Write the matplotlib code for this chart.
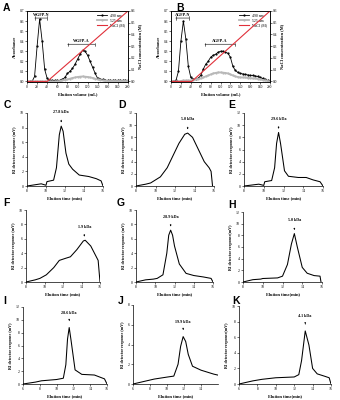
import matplotlib
matplotlib.use('Agg')
import matplotlib.pyplot as plt
import numpy as np

plt.rcParams['font.family'] = ['Liberation Serif', 'DejaVu Serif']
plt.rcParams['axes.linewidth'] = 0.5
plt.rcParams['xtick.major.width'] = 0.4
plt.rcParams['ytick.major.width'] = 0.4
plt.rcParams['xtick.major.size'] = 1.2
plt.rcParams['ytick.major.size'] = 1.2
plt.rcParams['xtick.major.pad'] = 1
plt.rcParams['ytick.major.pad'] = 1

# ---- ion exchange data (A, B) ----
vol = list(range(0, 205, 5))
a_490 = [0, 0, 0, 0.05, 0.35, 0.62, 0.40, 0.12, 0.03, 0.01, 0.01, 0.01, 0.01, 0.01, 0.02,
         0.04, 0.08, 0.10, 0.13, 0.17, 0.22, 0.27, 0.31, 0.30, 0.26, 0.20, 0.14, 0.08, 0.03,
         0.02, 0.02, 0.01, 0.01, 0.01, 0.01, 0.01, 0.01, 0.01, 0.01, 0.01, 0.01]
a_525 = [0, 0, 0, 0, 0, 0, 0, 0, 0, 0, 0, 0, 0.002, 0.005, 0.01, 0.015, 0.02, 0.028, 0.035,
         0.04, 0.045, 0.048, 0.05, 0.048, 0.045, 0.04, 0.035, 0.028, 0.02, 0.015, 0.01, 0.007,
         0.005, 0.005, 0.005, 0.005, 0.005, 0.005, 0.005, 0.005, 0.005]
b_490 = [0, 0, 0.01, 0.10, 0.40, 0.60, 0.42, 0.15, 0.04, 0.02, 0.02, 0.03, 0.06, 0.12, 0.17,
         0.20, 0.24, 0.26, 0.27, 0.29, 0.30, 0.30, 0.29, 0.28, 0.24, 0.15, 0.11, 0.09, 0.08,
         0.075, 0.07, 0.065, 0.06, 0.06, 0.055, 0.05, 0.04, 0.03, 0.02, 0.01, 0.005]
b_525 = [0, 0, 0, 0, 0.005, 0.01, 0.01, 0.01, 0.01, 0.015, 0.02, 0.025, 0.03, 0.04, 0.05,
         0.06, 0.07, 0.08, 0.085, 0.09, 0.09, 0.088, 0.085, 0.08, 0.07, 0.06, 0.05, 0.045,
         0.04, 0.04, 0.04, 0.035, 0.035, 0.03, 0.03, 0.025, 0.02, 0.015, 0.01, 0.005, 0]
a_nacl_x = [0, 40, 200]
a_nacl_y = [0, 0, 0.6]
b_nacl_x = [0, 42, 200]
b_nacl_y = [0, 0, 0.6]

# ---- GPC data (C - K) ----
c_t = [8, 9, 9.5, 10, 10.1, 10.8, 11.1, 11.4, 11.6, 11.8, 12.1, 12.4, 12.8, 13.5, 14.5, 15.3, 15.8, 16]
c_y = [0, 0.2, 0.3, 0.1, 0.6, 0.8, 2.5, 7.0, 8.2, 7.5, 4.5, 3.0, 2.3, 1.5, 1.3, 1.0, 0.7, 0]
d_t = [8, 9, 9.5, 10, 10.5, 11.2, 11.8, 12.4, 13.0, 13.3, 13.8, 14.4, 15.0, 15.5, 15.7, 15.85]
d_y = [0, 0.3, 0.5, 1.0, 1.5, 3.0, 5.0, 7.0, 8.5, 8.7, 8.0, 6.0, 4.0, 3.0, 2.4, 0]
e_t = [8, 9, 9.5, 10, 10.1, 10.8, 11.1, 11.3, 11.5, 11.7, 12.1, 12.5, 13.5, 14.3, 15.0, 15.7, 16]
e_y = [0, 0.2, 0.3, 0.1, 0.7, 0.9, 3.0, 7.0, 8.8, 7.0, 2.5, 1.6, 1.4, 1.4, 1.0, 0.7, 0]
f_t = [8, 9, 9.5, 10.2, 11, 11.6, 12.3, 12.8, 13.5, 14.2, 14.4, 15.0, 15.6, 15.8, 16]
f_y = [0, 0.3, 0.5, 1.0, 2.0, 3.0, 3.3, 3.5, 4.5, 5.7, 5.8, 5.0, 3.5, 3.0, 0]
g_t = [8, 9, 9.8, 10.2, 10.8, 11.2, 11.4, 11.6, 11.8, 12.0, 12.5, 13.2, 14.0, 15.0, 15.8, 16]
g_y = [0, 0.3, 0.4, 0.5, 1.0, 4.0, 6.5, 7.2, 6.5, 5.0, 2.5, 1.2, 0.9, 0.7, 0.5, 0]
h_t = [8, 9, 9.8, 10, 11.5, 12.0, 12.5, 12.9, 13.2, 13.5, 14.0, 14.5, 15.2, 15.8, 15.9]
h_y = [0, 0.4, 0.5, 0.6, 0.7, 1.0, 3.0, 6.5, 8.3, 6.0, 2.5, 1.5, 1.1, 1.0, 0]
i_t = [6, 7.5, 8.2, 10, 10.8, 11.1, 11.3, 11.5, 11.7, 12.2, 13.0, 14.5, 15.7, 16]
i_y = [0, 0.3, 0.5, 0.7, 0.9, 3.0, 7.0, 8.8, 7.0, 2.2, 1.5, 1.4, 0.8, 0]
j_t = [6, 7.5, 8.5, 10, 10.8, 11.3, 11.6, 11.9, 12.2, 12.5, 13.0, 14.0, 15.5, 16]
j_y = [0, 0.3, 0.5, 0.7, 0.8, 2.0, 3.8, 4.8, 4.3, 3.0, 1.8, 1.4, 1.0, 0.9]
k_t = [6, 7.5, 8.5, 10, 12, 12.5, 12.8, 13.2, 13.6, 14.0, 14.5, 15.3, 15.8, 16]
k_y = [0, 0.4, 0.6, 0.8, 0.9, 1.2, 3.0, 6.8, 5.0, 2.0, 1.3, 1.0, 0.8, 0]

W, H = 340, 400
fig = plt.figure(figsize=(3.4, 4.0), dpi=100)


def px_axes(x0, y0, x1, y1):
    return fig.add_axes([x0 / W, (H - y1) / H, (x1 - x0) / W, (y1 - y0) / H])


def letter(x, y, s):
    fig.text(x / W, 1 - y / H, s, fontsize=7.5, fontweight='bold',
             family='Liberation Sans', va='top', ha='left')


def ie_panel(box, d490, d525, nx, ny, labN, spanN, yN, labA, spanA, yA):
    ax = px_axes(*box)
    ax.plot(vol, d490, color='black', lw=0.6, marker='o', ms=0.6, label='490 nm')
    ax.plot(vol, d525, color='#b8b8b8', lw=1.3, marker='o', ms=0.6, label='525 nm')
    ax.set_xlim(0, 200)
    ax.set_ylim(-0.005, 0.7)
    ax.set_xticks(range(0, 201, 20))
    ax.set_yticks(np.arange(0, 0.71, 0.1))
    ax.set_yticklabels(['%.1f' % v for v in np.arange(0, 0.71, 0.1)])
    ax.tick_params(labelsize=2.6)
    ax.set_ylabel('Absorbance', fontsize=3.2, fontweight='bold', labelpad=2)
    ax.set_xlabel('Elution volume (mL)', fontsize=3.2, fontweight='bold', labelpad=2)
    ax2 = ax.twinx()
    ax2.plot(nx, ny, color='#e0303a', lw=0.8, label='NaCl (M)')
    ax2.set_ylim(-0.005, 0.6)
    ax2.set_yticks(np.arange(0, 0.61, 0.1))
    ax2.set_yticklabels(['%.1f' % v for v in np.arange(0, 0.61, 0.1)])
    ax2.tick_params(labelsize=2.6)
    ax2.set_ylabel('NaCl concentration (M)', fontsize=3.2, fontweight='bold', labelpad=2)
    h1, l1 = ax.get_legend_handles_labels()
    h2, l2 = ax2.get_legend_handles_labels()
    ax.legend(h1 + h2, l1 + l2, loc='upper right', fontsize=2.8, frameon=False,
              handlelength=2.5, borderpad=0.2, labelspacing=0.2)
    for lab, span, yy in [(labN, spanN, yN), (labA, spanA, yA)]:
        ax.annotate('', xy=(span[0], yy), xytext=(span[1], yy),
                    arrowprops=dict(arrowstyle='|-|', lw=0.4, mutation_scale=1.2))
        ax.text((span[0] + span[1]) / 2, yy + 0.01, lab, fontsize=3, fontweight='bold',
                ha='center', va='bottom')
    return ax


ie_panel((27, 11, 128, 82), a_490, a_525, a_nacl_x, a_nacl_y,
         'WGFP-N', (10, 45), 0.63, 'WGFP-A', (75, 140), 0.37)
ie_panel((171, 11, 270, 82), b_490, b_525, b_nacl_x, b_nacl_y,
         'AGFP-N', (4, 42), 0.63, 'AGFP-A', (63, 135), 0.37)
letter(3, 3, 'A')
letter(176, 3, 'B')


def gpc_panel(box, t, y, xlim, xticks, ymax, ystep, label, peak_x, peak_y, compact=False):
    ax = px_axes(*box)
    ax.plot(t, y, color='black', lw=0.75)
    ax.set_xlim(*xlim)
    ax.set_ylim(0, ymax)
    ax.set_xticks(xticks)
    ax.set_yticks(range(0, ymax + 1, ystep))
    ax.tick_params(labelsize=2.8)
    ax.spines['top'].set_visible(False)
    ax.spines['right'].set_visible(False)
    if compact:
        ax.set_ylabel('RI detector response(mV)', fontsize=3, fontweight='bold', labelpad=2)
        ax.set_xlabel('Elution time(min)', fontsize=3.2, fontweight='bold', labelpad=2)
    else:
        ax.set_ylabel('RI detector response (mV)', fontsize=3, fontweight='bold', labelpad=2)
        ax.set_xlabel('Elution time (min)', fontsize=3.2, fontweight='bold', labelpad=2)
    ax.annotate(label, xy=(peak_x, peak_y + 0.05 * ymax), xytext=(peak_x, peak_y + 0.16 * ymax),
                fontsize=3, fontweight='bold', ha='center', va='bottom',
                arrowprops=dict(arrowstyle='-|>', lw=0.4, mutation_scale=2, color='black'))
    return ax


gpc_panel((27, 113, 103, 186), c_t, c_y, (8, 16), [8, 10, 12, 14, 16], 10, 2, '27.8 kDa', 11.6, 8.2)
gpc_panel((136, 113, 214, 186), d_t, d_y, (8, 16), [8, 10, 12, 14, 16], 12, 2, '5.0 kDa', 13.3, 8.7)
gpc_panel((244, 113, 323, 186), e_t, e_y, (8, 16), [8, 10, 12, 14, 16], 12, 2, '29.6 kDa', 11.5, 8.8)
gpc_panel((26, 210, 100, 282), f_t, f_y, (8, 16), [8, 10, 12, 14, 16], 10, 2, '1.9 kDa', 14.3, 5.8)
gpc_panel((136, 210, 213, 282), g_t, g_y, (8, 16), [8, 10, 12, 14, 16], 10, 2, '28.9 kDa', 11.6, 7.2)
gpc_panel((243, 212, 322, 282), h_t, h_y, (8, 16), [8, 10, 12, 14, 16], 12, 2, '5.0 kDa', 13.2, 8.3, True)
gpc_panel((23, 307, 107, 384), i_t, i_y, (6, 16), [6, 8, 10, 12, 14, 16], 12, 2, '28.6 kDa', 11.5, 8.8)
gpc_panel((133, 305, 218, 384), j_t, j_y, (6, 16), [6, 8, 10, 12, 14], 8, 2, '19.9 kDa', 11.9, 4.8)
gpc_panel((239, 306, 331, 384), k_t, k_y, (6, 16), [6, 8, 10, 12, 14, 16], 10, 2, '4.1 kDa', 13.2, 6.8, True)

letter(4, 100, 'C')
letter(118, 100, 'D')
letter(228, 100, 'E')
letter(3, 198, 'F')
letter(117, 198, 'G')
letter(228, 200, 'H')
letter(3, 296, 'I')
letter(118, 296, 'J')
letter(232, 296, 'K')

fig.savefig('out.png', dpi=100)
